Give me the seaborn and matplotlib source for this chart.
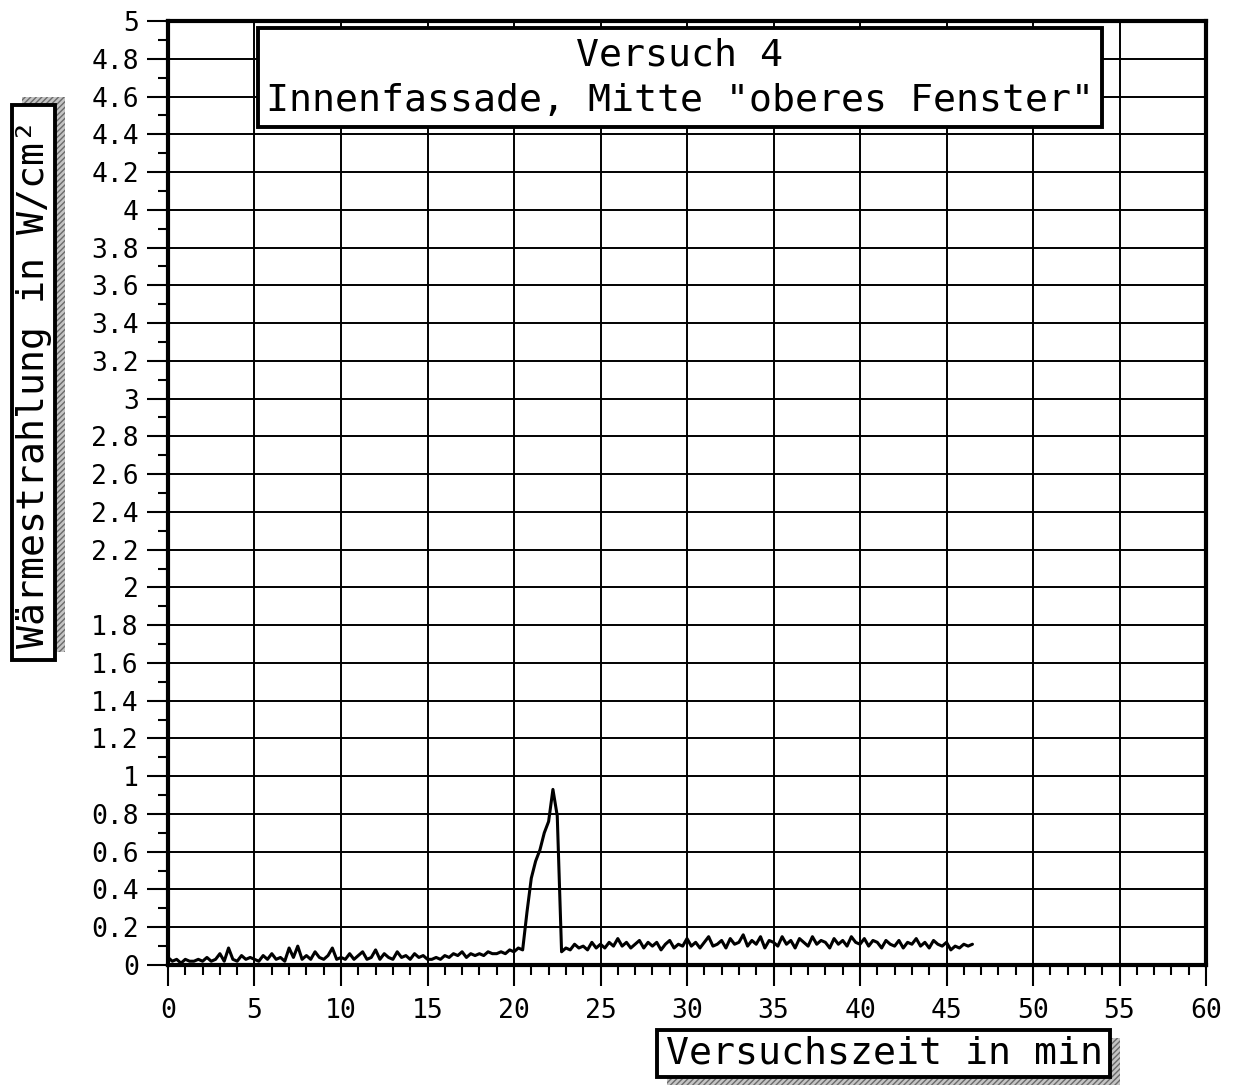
import numpy as np
import pandas as pd
import matplotlib
matplotlib.use("Agg")
import matplotlib.pyplot as plt
from matplotlib.patches import Rectangle
from matplotlib.ticker import MultipleLocator, FuncFormatter
import seaborn as sns

# ---------------- data ----------------
title_lines = ["Versuch 4", 'Innenfassade, Mitte "oberes Fenster"']
x_label = "Versuchszeit in min"
y_label = "Wärmestrahlung in W/cm²"

x_ticks = [0, 5, 10, 15, 20, 25, 30, 35, 40, 45, 50, 55, 60]
y_ticks = [0, 0.2, 0.4, 0.6, 0.8, 1, 1.2, 1.4, 1.6, 1.8, 2, 2.2, 2.4, 2.6, 2.8,
           3, 3.2, 3.4, 3.6, 3.8, 4, 4.2, 4.4, 4.6, 4.8, 5]

# sample times in minutes (every 0.25 min)
time_min = list(np.round(np.arange(0, 46.51, 0.25), 2))

# 0 .. 15 min
seg_start = [0.04, 0.02, 0.03, 0.01, 0.03, 0.02, 0.02, 0.03, 0.02, 0.04,
             0.02, 0.03, 0.06, 0.02, 0.09, 0.03, 0.02, 0.05, 0.03, 0.04,
             0.03, 0.02, 0.05, 0.03, 0.06, 0.03, 0.04, 0.02, 0.09, 0.04,
             0.10, 0.03, 0.05, 0.03, 0.07, 0.04, 0.03, 0.05, 0.09, 0.03,
             0.04, 0.03, 0.06, 0.03, 0.05, 0.07, 0.03, 0.04, 0.08, 0.03,
             0.06, 0.04, 0.03, 0.07, 0.04, 0.05, 0.03, 0.06, 0.04, 0.05,
             0.03]
# 15.25 .. 20.5 min
seg_pre = [0.03, 0.04, 0.03, 0.05, 0.04, 0.06, 0.05, 0.07, 0.04, 0.06,
           0.05, 0.06, 0.05, 0.07, 0.06, 0.06, 0.07, 0.06, 0.08, 0.07,
           0.09, 0.08]
# 20.75 .. 22.5 min
seg_peak = [0.28, 0.46, 0.55, 0.61, 0.70, 0.76, 0.93, 0.79]
# 22.75 .. 46.5 min
seg_after = [0.07,
             0.09, 0.08, 0.11, 0.09,
             0.10, 0.08, 0.12, 0.09,
             0.11, 0.09, 0.12, 0.10,
             0.14, 0.10, 0.12, 0.09,
             0.11, 0.13, 0.09, 0.12,
             0.10, 0.12, 0.08, 0.11,
             0.13, 0.09, 0.11, 0.10,
             0.14, 0.10, 0.12, 0.09,
             0.12, 0.15, 0.10, 0.11,
             0.13, 0.09, 0.14, 0.11,
             0.12, 0.16, 0.10, 0.13,
             0.11, 0.15, 0.09, 0.13,
             0.12, 0.10, 0.15, 0.11,
             0.13, 0.09, 0.14, 0.12,
             0.10, 0.15, 0.11, 0.13,
             0.12, 0.09, 0.14, 0.11,
             0.13, 0.10, 0.15, 0.12,
             0.11, 0.14, 0.10, 0.13,
             0.12, 0.09, 0.13, 0.11,
             0.10, 0.13, 0.09, 0.12,
             0.11, 0.14, 0.10, 0.12,
             0.09, 0.13, 0.11, 0.10,
             0.12, 0.08, 0.10, 0.09,
             0.11, 0.10, 0.11]

radiation = seg_start + seg_pre + seg_peak + seg_after
df = pd.DataFrame({"t": time_min, "q": radiation})

# ---------------- style ----------------
sns.set_style("white")
plt.rcParams["font.family"] = ["DejaVu Sans Mono", "DejaVu Sans"]
plt.rcParams["text.color"] = "black"
plt.rcParams["xtick.color"] = "black"
plt.rcParams["ytick.color"] = "black"

W, H = 1234, 1085
fig = plt.figure(figsize=(W / 100, H / 100), dpi=100)

def fx(px):
    return px / W

def fy(py_top):
    return 1 - py_top / H

ax = fig.add_axes([fx(168), fy(965), fx(1206) - fx(168), fy(21) - fy(965)])

sns.lineplot(data=df, x="t", y="q", ax=ax, color="black", linewidth=2.2,
             estimator=None, zorder=5)

ax.set_xlim(0, 60)
ax.set_ylim(0, 5)
ax.set_xticks(x_ticks)
ax.set_yticks(y_ticks)
ax.xaxis.set_minor_locator(MultipleLocator(1))
ax.yaxis.set_minor_locator(MultipleLocator(0.1))
ax.yaxis.set_major_formatter(FuncFormatter(lambda v, p: f"{v:g}"))
ax.xaxis.set_major_formatter(FuncFormatter(lambda v, p: f"{v:g}"))

ax.grid(True, which="major", color="black", linewidth=1.4)
ax.set_axisbelow(True)
for s in ax.spines.values():
    s.set_visible(True)
    s.set_color("black")
    s.set_linewidth(3)

ax.tick_params(axis="both", which="both", bottom=True, left=True,
               top=False, right=False)
ax.tick_params(axis="both", which="major", direction="out", length=15,
               width=1.5, color="black", labelsize=19, pad=6,
               labelcolor="black")
ax.tick_params(axis="both", which="minor", direction="out", length=7,
               width=1.5, color="black")
ax.tick_params(axis="x", which="major", pad=9)
ax.set_xlabel("")
ax.set_ylabel("")

# ---------------- boxes ----------------
def box(x0, y0_top, x1, y1_top, shadow=None, lw=2.8):
    # shadow given as (dx, dy) in pixels, dy positive = down
    if shadow is not None:
        dx, dy = shadow
        sh = Rectangle((fx(x0 + dx), fy(y1_top + dy)), fx(x1 - x0), fy(y0_top) - fy(y1_top),
                       transform=fig.transFigure, facecolor="#c4c4c4",
                       edgecolor="#6a6a6a", hatch="//////", linewidth=0, zorder=8)
        fig.add_artist(sh)
    r = Rectangle((fx(x0), fy(y1_top)), fx(x1 - x0), fy(y0_top) - fy(y1_top),
                  transform=fig.transFigure, facecolor="white",
                  edgecolor="black", linewidth=lw, zorder=9)
    fig.add_artist(r)

FS = 27.5

# title box
box(258, 28, 1102, 127)
fig.text(fx(680), fy(55), title_lines[0], ha="center", va="center",
         fontsize=FS, zorder=10, color="black")
fig.text(fx(680), fy(101), title_lines[1], ha="center", va="center",
         fontsize=FS, zorder=10, color="black")

# y label box (shadow to the right/up)
box(12, 105, 55, 660, shadow=(10, -8))
fig.text(fx(34), fy(383), y_label, ha="center", va="center", rotation=90,
         fontsize=FS, zorder=10, color="black")

# x label box (shadow to the right/down)
box(657, 1030, 1110, 1077, shadow=(10, 8))
fig.text(fx(884), fy(1054), x_label, ha="center", va="center",
         fontsize=FS, zorder=10, color="black")

fig.savefig("out.png", dpi=100, facecolor="white")
